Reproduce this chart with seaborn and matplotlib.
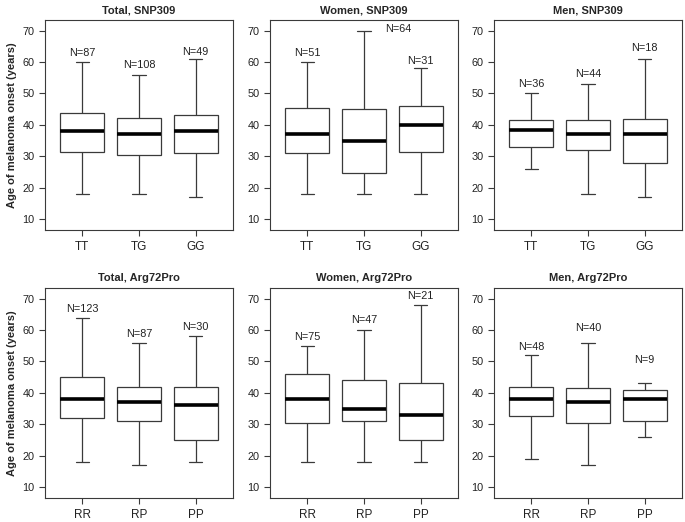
import pandas as pd
import numpy as np
import seaborn as sns
import matplotlib.pyplot as plt

# five-number summaries: [min, q1, median, q3, max]
snp_genotypes = ['TT', 'TG', 'GG']
arg_genotypes = ['RR', 'RP', 'PP']

total_snp309 = [[18, 31.5, 38, 43.7, 60], [18, 30.3, 37, 42.3, 56], [17, 31, 38, 43, 61]]
women_snp309 = [[18, 31, 37, 45.3, 60], [18, 24.8, 35, 45, 70], [18, 31.3, 40, 46, 58]]
men_snp309 = [[26, 33, 38.5, 41.5, 50], [18, 32, 37, 41.5, 53], [17, 28, 37, 42, 61]]
total_arg72pro = [[18, 32, 38, 45, 64], [17, 31, 37, 42, 56], [18, 25, 36, 42, 58]]
women_arg72pro = [[18, 30.5, 38, 46, 55], [18, 31, 35, 44, 60], [18, 25, 33, 43, 68]]
men_arg72pro = [[19, 32.7, 38, 42, 52], [17, 30.5, 37, 41.5, 56], [26, 31, 38, 41, 43]]

n_total_snp309 = [87, 108, 49]
n_women_snp309 = [51, 64, 31]
n_men_snp309 = [36, 44, 18]
n_total_arg72pro = [123, 87, 30]
n_women_arg72pro = [75, 47, 21]
n_men_arg72pro = [48, 40, 9]

# where the N= labels sit (data units)
label_y = {
    'Total, SNP309': [62.8, 59.0, 63.3],
    'Women, SNP309': [62.8, 70.5, 60.3],
    'Men, SNP309': [53.0, 56.2, 64.6],
    'Total, Arg72Pro': [66.6, 58.6, 61.0],
    'Women, Arg72Pro': [57.8, 63.1, 70.9],
    'Men, Arg72Pro': [54.7, 60.6, 50.4],
}
label_x_shift = {'Women, SNP309': [0, 0.6, 0]}

panels = [
    ('Total, SNP309', snp_genotypes, total_snp309, n_total_snp309),
    ('Women, SNP309', snp_genotypes, women_snp309, n_women_snp309),
    ('Men, SNP309', snp_genotypes, men_snp309, n_men_snp309),
    ('Total, Arg72Pro', arg_genotypes, total_arg72pro, n_total_arg72pro),
    ('Women, Arg72Pro', arg_genotypes, women_arg72pro, n_women_arg72pro),
    ('Men, Arg72Pro', arg_genotypes, men_arg72pro, n_men_arg72pro),
]

sns.set_style('ticks')
plt.rcParams['font.family'] = ['Liberation Sans', 'DejaVu Sans']

W, H = 685, 522
fig = plt.figure(figsize=(W / 100, H / 100), dpi=100)

lefts = [45, 270, 494]
tops = [20, 288]
aw, ah = 188, 210
edge = '#3a3a3a'

for i, (title, genos, summ, ns) in enumerate(panels):
    row, col = divmod(i, 3)
    ax = fig.add_axes([lefts[col] / W, 1 - (tops[row] + ah) / H, aw / W, ah / H])

    rows = []
    for g, vals in zip(genos, summ):
        for v in vals:
            rows.append({'genotype': g, 'age': v})
    df = pd.DataFrame(rows)

    sns.boxplot(data=df, x='genotype', y='age', order=genos, ax=ax,
                whis=(0, 100), width=0.78, color='white', linecolor=edge,
                linewidth=0.9, showfliers=False, capwidths=0.24,
                medianprops=dict(color='black', linewidth=2.6))

    shifts = label_x_shift.get(title, [0, 0, 0])
    for j, n in enumerate(ns):
        ax.text(j + shifts[j], label_y[title][j], f'N={n}', ha='center', va='center',
                fontsize=7.8, color='#222222')

    ax.set_xlim(-0.66, 2.66)
    ax.set_ylim(6.5, 73.4)
    ax.set_yticks([10, 20, 30, 40, 50, 60, 70])
    ax.set_title(title, fontsize=8, fontweight='bold', pad=5)
    ax.set_xlabel('')
    if col == 0:
        ax.set_ylabel('Age of melanoma onset (years)', fontsize=8, fontweight='bold')
    else:
        ax.set_ylabel('')
    for s in ax.spines.values():
        s.set_visible(True)
        s.set_color(edge)
        s.set_linewidth(0.8)
    ax.tick_params(axis='both', length=4, width=0.8, color=edge, labelcolor='#222222')
    ax.tick_params(axis='y', labelsize=7.8)
    ax.tick_params(axis='x', labelsize=8.5, pad=4)

fig.savefig('out.png', dpi=100)
